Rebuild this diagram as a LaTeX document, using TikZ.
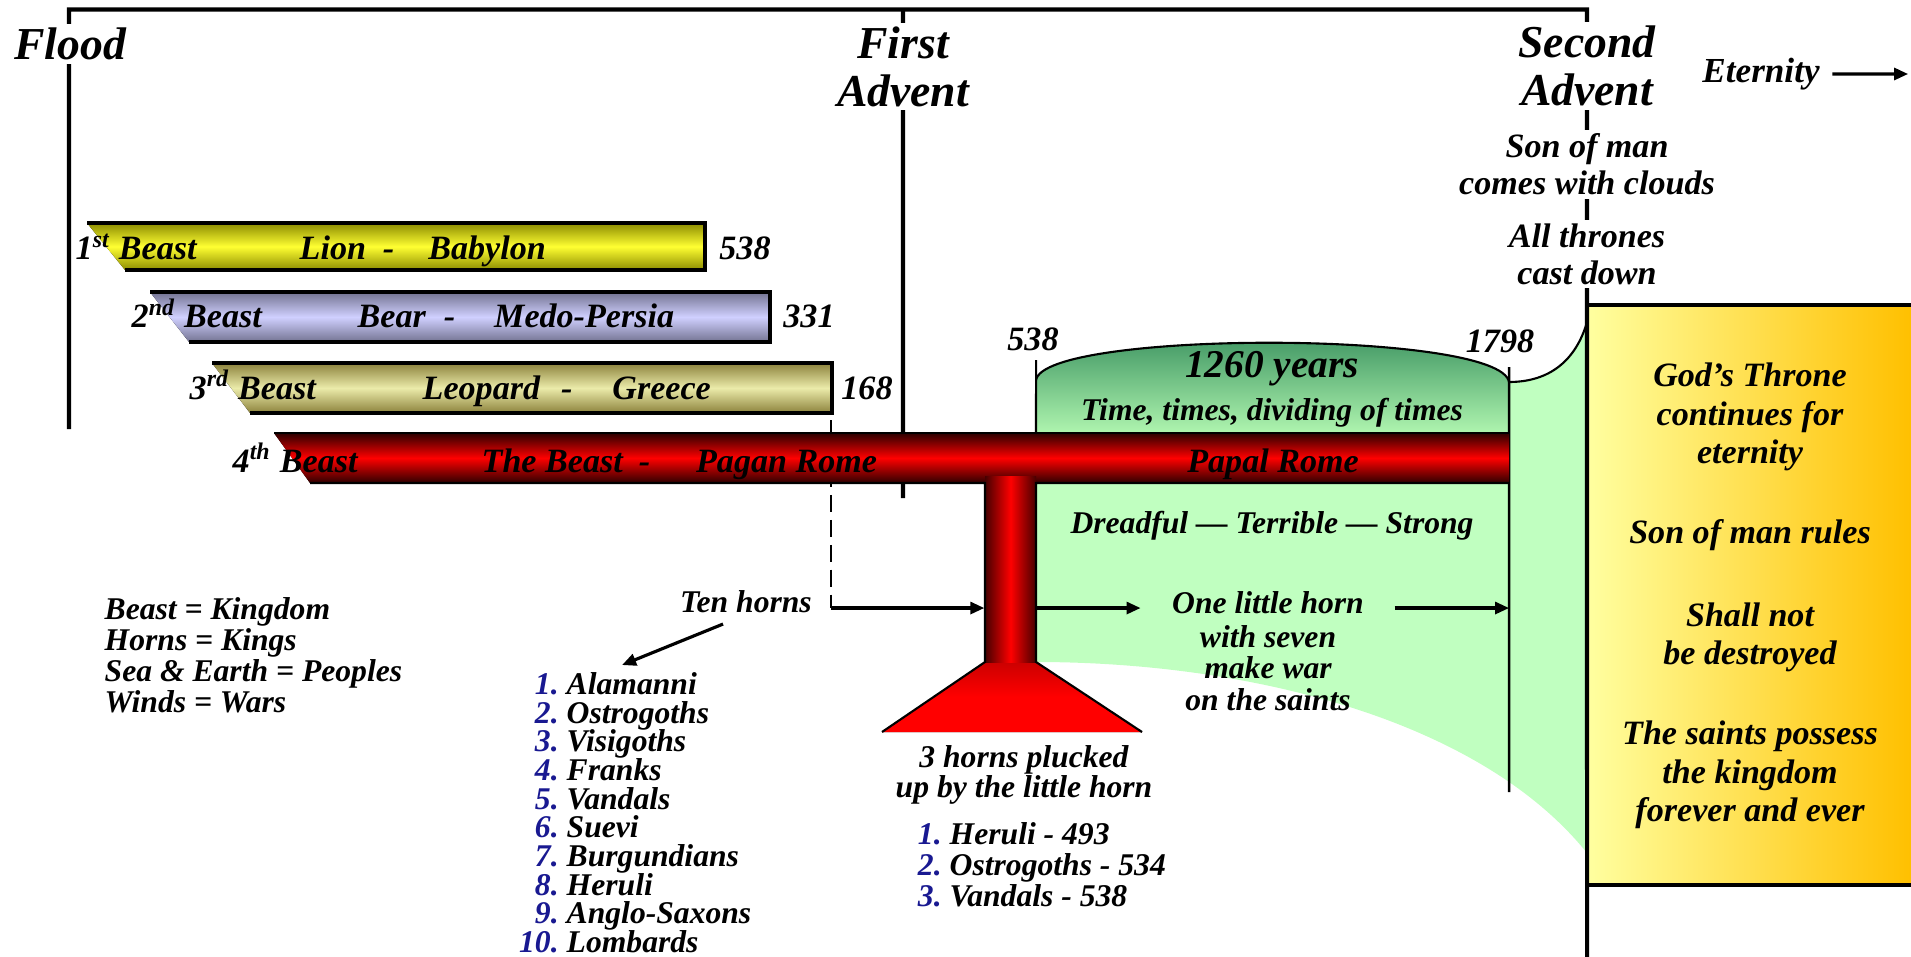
\documentclass[tikz,border=0pt]{standalone}
\usepackage{fontspec}
\setmainfont{Liberation Serif}
\usetikzlibrary{arrows.meta}
\usepackage{color}

\definecolor{lionhi}{RGB}{255,255,50}
\definecolor{lionlo}{RGB}{140,140,0}
\definecolor{bearhi}{RGB}{208,208,255}
\definecolor{bearlo}{RGB}{115,115,145}
\definecolor{leophi}{RGB}{235,235,170}
\definecolor{leoplo}{RGB}{140,130,60}
\definecolor{romehi}{RGB}{255,0,0}
\definecolor{romelo}{RGB}{45,0,0}
\definecolor{stemlo}{RGB}{70,0,0}
\definecolor{domehi}{RGB}{58,145,95}
\definecolor{domelo}{RGB}{175,245,175}
\definecolor{saintsgreen}{RGB}{192,255,192}
\definecolor{thronelt}{RGB}{255,255,160}
\definecolor{thronedk}{RGB}{255,192,0}
\definecolor{hornblue}{RGB}{25,25,145}

\newcommand{\hnum}[2]{\makebox[#1][r]{\color{hornblue}#2}\hspace{0.8mm}}

\begin{document}
\begin{tikzpicture}[scale=0.1,
  txt/.style={font=\bfseries\itshape\fontsize{9}{9}\selectfont},
  bartxt/.style={font=\bfseries\itshape\fontsize{9.7}{10.5}\selectfont},
  ttl/.style={font=\bfseries\itshape\fontsize{13}{13.7}\selectfont, fill=white, inner sep=1pt, align=center},
  side/.style={font=\bfseries\itshape\fontsize{9.7}{10.5}\selectfont, fill=white, inner sep=1pt, align=center},
  boxtxt/.style={font=\bfseries\itshape\fontsize{9.7}{10.9}\selectfont, align=center},
  timeline/.style={line width=1.2pt},
  barline/.style={line width=0.9pt},
  arr/.style={line width=0.9pt, -{Triangle[length=4pt,width=3.4pt]}}]
\tikzstyle{every node}+=[inner sep=0pt]
\useasboundingbox (0,0) rectangle (191.1,-95.7);
% green ground of the little horn
\fill[saintsgreen] (103.6,-48.3) -- (150.9,-48.3) -- (150.9,-38.2) .. controls (155,-38.2) and (157.6,-36) .. (158.7,-32.2) -- (158.7,-85.3) .. controls (148,-72) and (125,-66.2) .. (103.6,-66.2) -- cycle;
\fill[top color=domehi, bottom color=domelo] (103.6,-43.3) -- (103.6,-38.0) .. controls (104.5,-33.0) and (150,-33.0) .. (150.9,-38.2) -- (150.9,-43.3) -- cycle;
\draw[line width=0.6pt] (103.6,-38.0) .. controls (104.5,-33.0) and (150,-33.0) .. (150.9,-38.2) .. controls (155,-38.2) and (157.6,-36) .. (158.7,-32.2);
% throne box
\fill[left color=thronelt, right color=thronedk] (158.7,-30.5) rectangle (191.1,-88.5);
\draw[timeline] (158.7,-30.5) -- (191.5,-30.5) (158.7,-88.5) -- (191.5,-88.5);
% time line
\coordinate (flood0) at (6.9,-42.9);
\coordinate (advent1) at (90.3,-49.8);
\coordinate (advent2) at (158.7,-95.7);
\draw[timeline] (flood0) -- (6.9,-0.95) -- (158.7,-0.95) -- (advent2);
\draw[timeline] (90.3,-0.95) -- (advent1);
\coordinate (mark538) at (103.6,-36.0);
\coordinate (mark1798) at (150.9,-36.7);
\draw[line width=0.6pt] (mark538) -- (103.6,-43.3);
\draw[line width=0.7pt] (mark1798) -- (150.9,-79.2);
\coordinate (drop168) at (83.1,-42.0);
\coordinate (tencorner) at (83.1,-60.8);
\draw[line width=0.6pt, dash pattern=on 4.8pt off 2.3pt] (drop168) -- (tencorner);
% beasts
\fill[top color=lionlo, bottom color=lionlo, middle color=lionhi] (8.7,-22.3) -- (70.5,-22.3) -- (70.5,-27.0) -- (12.5,-27.0) -- cycle;
\draw[barline] (8.7,-22.3) -- (70.5,-22.3) -- (70.5,-27.0) -- (12.5,-27.0);
\fill[top color=bearlo, bottom color=bearlo, middle color=bearhi] (15.0,-29.2) -- (77.0,-29.2) -- (77.0,-34.2) -- (18.9,-34.2) -- cycle;
\draw[barline] (15.0,-29.2) -- (77.0,-29.2) -- (77.0,-34.2) -- (18.9,-34.2);
\fill[top color=leoplo, bottom color=leoplo, middle color=leophi] (21.2,-36.3) -- (83.2,-36.3) -- (83.2,-41.3) -- (25.0,-41.3) -- cycle;
\draw[barline] (21.2,-36.3) -- (83.2,-36.3) -- (83.2,-41.3) -- (25.0,-41.3);
\fill[top color=romelo, bottom color=romelo, middle color=romehi] (27.4,-43.3) -- (150.9,-43.3) -- (150.9,-48.3) -- (31.0,-48.3) -- cycle;
\fill[top color=romehi!80!black, bottom color=romehi, middle color=romehi] (98.5,-66.2) -- (103.6,-66.2) -- (114.2,-73.2) -- (88.2,-73.2) -- cycle;
\node[anchor=north, minimum width=5.1mm, minimum height=18.6mm, left color=stemlo, right color=stemlo, middle color=romehi] (stem) at (101.05,-47.6) {};
\draw[line width=0.5pt] (27.4,-43.3) -- (150.9,-43.3);
\draw[line width=0.6pt] (31.0,-48.3) -- (98.5,-48.3) -- (98.5,-66.2) -- (88.2,-73.2);
\draw[line width=0.6pt] (150.9,-48.3) -- (103.6,-48.3) -- (103.6,-66.2) -- (114.2,-73.2);
% labels on the bars
\node[bartxt, anchor=base west] (beast1) at (7.5,-26.0) {1\textsuperscript{st} Beast};
\node[bartxt, anchor=base west] (lion) at (29.9,-26.0) {Lion\hspace{1.7mm}-\hspace{3.4mm}Babylon};
\node[bartxt, anchor=base] (end538) at (74.5,-26.0) {538};
\node[bartxt, anchor=base west] (beast2) at (13.1,-32.8) {2\textsuperscript{nd} Beast};
\node[bartxt, anchor=base west] (bear) at (35.7,-32.8) {Bear\hspace{1.8mm}-\hspace{3.9mm}Medo-Persia};
\node[bartxt, anchor=base] (end331) at (80.9,-32.8) {331};
\node[bartxt, anchor=base west] (beast3) at (18.9,-39.9) {3\textsuperscript{rd} Beast};
\node[bartxt, anchor=base west] (leopard) at (42.2,-39.9) {Leopard\hspace{2.1mm}-\hspace{4.0mm}Greece};
\node[bartxt, anchor=base] (end168) at (86.7,-39.9) {168};
\node[bartxt, anchor=base west] (beast4) at (23.2,-47.2) {4\textsuperscript{th} Beast};
\node[bartxt, anchor=base west] (pagan) at (48.1,-47.2) {The Beast\hspace{1.6mm}-\hspace{4.6mm}Pagan Rome};
\node[bartxt, anchor=base] (papal) at (127.3,-47.2) {Papal Rome};
% heads of the time line
\node[ttl] (flood) at (7.0,-4.4) {Flood};
\node[ttl] (firstadv) at (90.3,-6.65) {First\\Advent};
\node[ttl] (secondadv) at (158.7,-6.6) {Second\\Advent};
\node[font=\bfseries\itshape\fontsize{10}{11}\selectfont] (eternity) at (176.1,-7.4) {Eternity};
\coordinate (etend) at (190.8,-7.4);
\draw[arr, shorten <=1.2mm] (eternity) -- (etend);
\node[side] (sonofman) at (158.7,-16.45) {Son of man\\comes with clouds};
\node[side] (thrones) at (158.7,-25.4) {All thrones\\cast down};
% throne box text
\node[boxtxt] (godthrone) at (175.0,-41.7) {God's Throne\\continues for\\eternity};
\node[boxtxt] (sonrules) at (175.0,-53.5) {Son of man rules};
\node[boxtxt] (notdestroyed) at (175.0,-63.7) {Shall not\\be destroyed};
\node[boxtxt] (saints) at (175.0,-77.5) {The saints possess\\the kingdom\\forever and ever};
% 1260 years
\node[bartxt, anchor=base] (y538) at (103.3,-35.0) {538};
\node[bartxt, anchor=base] (y1798) at (150.0,-35.3) {1798};
\node[font=\bfseries\itshape\fontsize{11.2}{12}\selectfont, anchor=base] (years) at (127.2,-37.8) {1260 years};
\node[txt, anchor=base] (times) at (127.2,-42.1) {Time, times, dividing of times};
\node[txt, anchor=base] (dreadful) at (127.2,-53.3) {Dreadful --- Terrible --- Strong};
\node[txt, anchor=base] (littlehorn) at (126.8,-61.3) {One little horn};
\node[txt, align=center] (hornwar) at (126.8,-66.8) {with seven\\make war\\on the saints};
\draw[arr] (tencorner) -- (tencorner -| stem.west);
\draw[arr, shorten >=3.1mm] (stem.east |- tencorner) -- (tencorner -| littlehorn.west);
\draw[arr, shorten <=3.0mm] (tencorner -| littlehorn.east) -- (tencorner -| mark1798);
% horns
\node[txt, anchor=base] (tenhorns) at (74.6,-61.2) {Ten horns};
\coordinate (hornlist) at (62.2,-66.5);
\draw[arr] ([shift={(-2.3,-1.1)}]tenhorns.south) -- (hornlist);
\node[txt, anchor=base west] (horn1) at (51.9,-69.4) {\hnum{3.9mm}{1.}Alamanni};
\node[txt, anchor=base west] (horn2) at (51.9,-72.3) {\hnum{3.9mm}{2.}Ostrogoths};
\node[txt, anchor=base west] (horn3) at (51.9,-75.1) {\hnum{3.9mm}{3.}Visigoths};
\node[txt, anchor=base west] (horn4) at (51.9,-78.0) {\hnum{3.9mm}{4.}Franks};
\node[txt, anchor=base west] (horn5) at (51.9,-80.9) {\hnum{3.9mm}{5.}Vandals};
\node[txt, anchor=base west] (horn6) at (51.9,-83.7) {\hnum{3.9mm}{6.}Suevi};
\node[txt, anchor=base west] (horn7) at (51.9,-86.6) {\hnum{3.9mm}{7.}Burgundians};
\node[txt, anchor=base west] (horn8) at (51.9,-89.5) {\hnum{3.9mm}{8.}Heruli};
\node[txt, anchor=base west] (horn9) at (51.9,-92.3) {\hnum{3.9mm}{9.}Anglo-Saxons};
\node[txt, anchor=base west] (horn10) at (51.9,-95.2) {\hnum{3.9mm}{10.}Lombards};
\node[font=\bfseries\itshape\fontsize{9}{8.4}\selectfont, align=center] (plucked) at (102.4,-77.5) {3 horns plucked\\up by the little horn};
\node[txt, anchor=base west] (pluck1) at (91.7,-84.4) {\hnum{2.4mm}{1.}Heruli - 493};
\node[txt, anchor=base west] (pluck2) at (91.7,-87.5) {\hnum{2.4mm}{2.}Ostrogoths - 534};
\node[txt, anchor=base west] (pluck3) at (91.7,-90.6) {\hnum{2.4mm}{3.}Vandals - 538};
% key
\node[txt, anchor=base west] (key1) at (10.4,-61.9) {Beast = Kingdom};
\node[txt, anchor=base west] (key2) at (10.4,-65.0) {Horns = Kings};
\node[txt, anchor=base west] (key3) at (10.4,-68.1) {Sea \& Earth = Peoples};
\node[txt, anchor=base west] (key4) at (10.4,-71.2) {Winds = Wars};
\end{tikzpicture}
\end{document}
